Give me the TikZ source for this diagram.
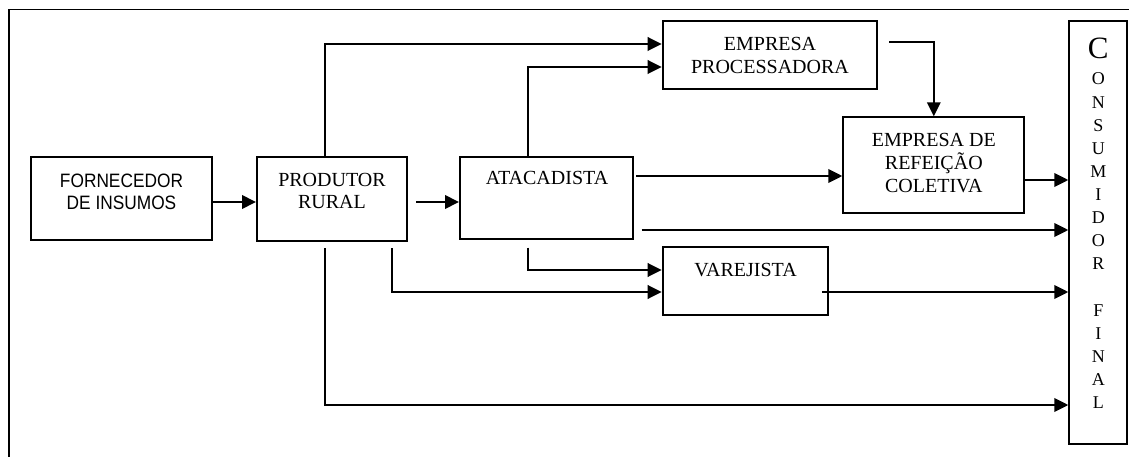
\documentclass[tikz,border=0pt]{standalone}
\usepackage{fontspec}
\setmainfont{Liberation Serif}
\newfontfamily\arialf{Liberation Sans}
\usetikzlibrary{arrows.meta}
\begin{document}
\begin{tikzpicture}[x=1pt,y=-1pt,
  boxstyle/.style={draw,line width=2pt,inner sep=0pt},
  txt/.style={inner sep=0pt,anchor=base,font=\fontsize{20}{22}\selectfont},
  sanstxt/.style={inner sep=0pt,anchor=base,font=\arialf\fontsize{17.3}{20}\selectfont},
  vtxt/.style={inner sep=0pt,anchor=base,font=\fontsize{18}{20}\selectfont},
  arr/.style={line width=2pt,-{Triangle[length=14pt,width=13.5pt]}}]
\useasboundingbox (0,0) rectangle (1129,457);
% frame
\draw[line width=1.6pt] (9,457) -- (9,9.5) -- (1129,9.5);

% boxes
\node[boxstyle,minimum width=181pt,minimum height=83pt] (forn) at (121.5,198.5) {};
\node[boxstyle,minimum width=150pt,minimum height=84pt] (prod) at (332,199) {};
\node[boxstyle,minimum width=173pt,minimum height=82pt] (atac) at (546.5,198) {};
\node[boxstyle,minimum width=214.6pt,minimum height=68pt] (proc) at (770,55.3) {};
\node[boxstyle,minimum width=181pt,minimum height=95.4pt] (ref) at (933.8,165) {};
\node[boxstyle,minimum width=165.6pt,minimum height=68pt] (varej) at (745.5,281.3) {};
\node[boxstyle,minimum width=57.4pt,minimum height=423pt] (cons) at (1098,232.8) {};

% labels
\node[sanstxt] (fornA) at (121.5,187.3) {\scalebox{1}[1.12]{FORNECEDOR}};
\node[sanstxt] (fornB) at (121.5,209.8) {\scalebox{1}[1.12]{DE INSUMOS}};
\node[txt] (prodA) at (332,186.7) {PRODUTOR};
\node[txt] (prodB) at (332,208.3) {RURAL};
\node[txt] (atacA) at (547,185) {ATACADISTA};
\node[txt] (procA) at (770,50.7) {EMPRESA};
\node[txt] (procB) at (770,73.3) {PROCESSADORA};
\node[txt] (refA) at (933.8,146.7) {EMPRESA DE};
\node[txt] (refB) at (933.8,169.5) {REFEIÇÃO};
\node[txt] (refC) at (933.8,192.3) {COLETIVA};
\node[txt] (varejA) at (745.5,276.7) {VAREJISTA};
\node[inner sep=0pt,anchor=base,font=\fontsize{31}{31}\selectfont] (consC) at (1098.3,58.3) {C};
\foreach \ch [count=\i from 0] in {O,N,S,U,M,I,D,O,R,{},F,I,N,A,L}
  \node[vtxt] (cons\i) at (1098.3,85+23.1*\i) {\ch};

% connectors
\draw[arr] (forn.east |- 0,202) -- (prod.west |- 0,202);
\draw[arr] ([xshift=8pt]prod.east |- 0,202) -- (atac.west |- 0,202);
\draw[arr] (prod.north -| 325,0) |- (proc.west |- 0,44);
\draw[arr] (atac.north -| 528,0) |- (proc.west |- 0,67);
\draw[arr] ([xshift=11pt]proc.east |- 0,42) -| (ref.north);
\draw[arr] ([xshift=2pt]atac.east |- 0,176) -- (ref.west |- 0,176);
\draw[arr] (ref.east |- 0,180) -- (cons.west |- 0,180);
\draw[arr] ([xshift=7.5pt]atac.east |- 0,230) -- (cons.west |- 0,230);
\draw[arr] ([yshift=-7.5pt]atac.south -| 528,0) |- (varej.west |- 0,270);
\draw[arr] ([yshift=-6pt]prod.south -| 392,0) |- (varej.west |- 0,292);
\draw[arr] ([xshift=-7.3pt]varej.east |- 0,292) -- (cons.west |- 0,292);
\draw[arr] ([yshift=-6pt]prod.south -| 325,0) |- (cons.west |- 0,405);
\end{tikzpicture}
\end{document}
